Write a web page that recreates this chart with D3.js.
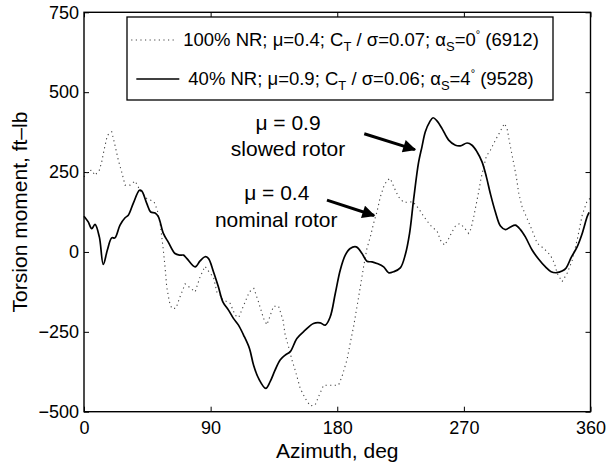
<!DOCTYPE html>
<html>
<head>
<meta charset="utf-8">
<script src="https://cdn.jsdelivr.net/npm/d3@7"></script>
<style>
  body { margin: 0; background: #fff; }
  svg { display: block; font-family: "Liberation Sans", Arial, Helvetica, sans-serif; }
</style>
</head>
<body>
<svg id="chart"></svg>
<script>
// 100% NR, mu=0.4 (dotted)
const nominalAz = [0, 3, 5.5, 7.8, 10.9, 12.6, 14.2, 16.6, 19.7, 22, 24.4, 26.8, 29.2, 32.7, 36.3, 39.8,
  44.6, 49.8, 52.1, 54.1, 55.3, 56.4, 57.6, 58.8, 60.7, 62.4, 65.4, 68.3, 71.9, 75.4, 79, 82.5, 86,
  89.6, 92, 94.4, 96.8, 98.7, 101.5, 103.9, 106.2, 107.4, 110, 113.6, 117.5, 120.7, 124, 127.6, 130,
  134.7, 138.3, 141.4, 143, 145.4, 147.8, 150.1, 153.7, 157.2, 160.8, 164.3, 166.7, 170.3, 175, 180.9,
  183.3, 186.9, 189.2, 191.6, 194, 196.4, 198.7, 201.1, 203.5, 205.8, 208.2, 210.6, 213, 215.3, 217.7,
  221.3, 223.6, 227.2, 230.7, 233.8, 237.8, 240.9, 243.8, 247.3, 250.9, 253.3, 256.3, 259.2, 261.6,
  264, 267, 269.9, 273.4, 275.1, 277, 278.9, 280.5, 282.2, 284.1, 286, 288.8, 292.4, 295.2, 298.8,
  300.7, 303.1, 305.4, 307.3, 309, 311.4, 314.9, 318.5, 322.1, 326.8, 331.5, 334.4, 336.3, 339.8,
  343.4, 347, 350.5, 354.1, 357.2, 360];
const nominalMoment = [235, 253, 256, 240, 256, 282, 318, 365, 376, 334, 287, 250, 209, 209, 222, 193,
  167, 157, 131, 89, 47, 5, -47, -110, -156, -177, -176, -140, -100, -112, -125, -78, -45,
  -67, -78, -125, -135, -151, -155, -161, -185, -198, -205, -166, -125, -114, -156, -208, -228,
  -170, -170, -213, -260, -297, -338, -370, -427, -458, -482, -479, -453, -417, -417, -417,
  -391, -338, -286, -234, -172, -109, -47, 11, 47, 89, 125, 172, 204, 224, 230,
  193, 172, 155, 156, 157, 136, 115, 97, 78, 66, 37, 21, 42, 63,
  81, 89, 78, 58, 73, 110, 152, 188, 230, 266, 300, 318, 350, 372, 402,
  386, 329, 277, 235, 183, 141, 105, 68, 27, 11, -10, -36, -67, -93,
  -67, -26, 37, 115, 155, 170];

// 40% NR, mu=0.9 (solid)
const slowedAz = [0, 3, 5.5, 7.8, 10.9, 13.7, 16.6, 19.7, 22, 25.6, 29.2, 31.5, 35, 39.4, 41, 44.6,
  47.4, 50.5, 52.9, 56.4, 60, 64.7, 68.3, 70.7, 73, 79, 82.5, 86, 88.4, 92, 95.5, 98.7, 102.7, 106.2,
  109.8, 113.4, 117.6, 120.5, 124.1, 129.2, 132.3, 135.8, 139.4, 143, 146.6, 151.3, 157.2, 163.1,
  167.9, 171.5, 175, 178.6, 182.1, 185.7, 189.2, 193.5, 197.6, 201.1, 204.7, 208.2, 213, 216.5, 220,
  224.8, 228.4, 231.4, 234.3, 237.8, 240.2, 242.6, 245.7, 248.1, 250.9, 254.5, 259.2, 264, 267.5,
  272.3, 275.8, 279.4, 282.9, 286, 288.8, 292.4, 296, 299.5, 303.1, 306.6, 310.2, 313.7, 318.5,
  323.2, 328, 332, 335.8, 339.8, 342.7, 346.3, 350.5, 354.1, 357.6, 359];
const slowedMoment = [112, 94, 73, 86, 47, -39, 6, 44, 44, 84, 107, 115, 152, 193, 191, 152,
  125, 122, 110, 58, 30, -5, -10, -10, -20, -47, -28, -15, -20, -62, -109, -156, -182, -208,
  -229, -260, -302, -354, -396, -427, -406, -370, -338, -323, -312, -271, -245, -224,
  -222, -229, -203, -130, -57, -10, 11, 16, -5, -29, -31, -36, -47, -65, -62,
  -50, -8, 58, 165, 280, 329, 376, 407, 420, 410, 386, 350, 334, 332,
  341, 334, 313, 282, 235, 183, 125, 81, 70, 78, 84, 70, 47, 6,
  -23, -47, -62, -65, -60, -50, -17, 16, 58, 110, 124];

const xTicks = [0, 90, 180, 270, 360];
const yTicks = [-500, -250, 0, 250, 500, 750];

const W = 608, H = 467;
const margin = { top: 12.3, right: 17.5, bottom: 55.3, left: 84 };
const width = W - margin.left - margin.right;
const height = H - margin.top - margin.bottom;

const root = d3.select('#chart').attr('width', W).attr('height', H);
root.append('rect').attr('width', W).attr('height', H).attr('fill', '#fff');

const defs = root.append('defs');
defs.append('marker')
  .attr('id', 'head')
  .attr('viewBox', '0 -5 10 10')
  .attr('refX', 9)
  .attr('refY', 0)
  .attr('markerUnits', 'userSpaceOnUse')
  .attr('markerWidth', 15)
  .attr('markerHeight', 13)
  .attr('orient', 'auto')
  .append('path')
  .attr('d', 'M0,-5L10,0L0,5Z')
  .attr('fill', '#000');

const svg = root.append('g').attr('transform', `translate(${margin.left},${margin.top})`);

const x = d3.scaleLinear().domain([0, 360]).range([0, width]);
const y = d3.scaleLinear().domain([-500, 750]).range([height, 0]);

const fmt = d => d < 0 ? '\u2212' + Math.abs(d) : String(d);

// axes, ticks pointing inward
svg.append('g')
  .attr('transform', `translate(0,${height})`)
  .call(d3.axisBottom(x).tickValues(xTicks).tickFormat(fmt).tickSizeInner(-5).tickSizeOuter(0).tickPadding(10));
svg.append('g')
  .call(d3.axisLeft(y).tickValues(yTicks).tickFormat(fmt).tickSizeInner(-5).tickSizeOuter(0).tickPadding(5));
svg.append('g')
  .call(d3.axisTop(x).tickValues(xTicks).tickFormat('').tickSizeInner(-5).tickSizeOuter(0));
svg.append('g')
  .attr('transform', `translate(${width},0)`)
  .call(d3.axisRight(y).tickValues(yTicks).tickFormat('').tickSizeInner(-5).tickSizeOuter(0));

svg.selectAll('.domain').remove();
svg.selectAll('.tick line').attr('stroke', '#000').attr('stroke-width', 1);
svg.selectAll('.tick text')
  .attr('fill', '#000')
  .style('font-size', '18px')
  .style('font-family', '"Liberation Sans", Arial, sans-serif');

// the lines
const lineNominal = d3.line()
  .x((d, i) => x(nominalAz[i]))
  .y(d => y(d));
const lineSlowed = d3.line()
  .x((d, i) => x(slowedAz[i]))
  .y(d => y(d))
  .curve(d3.curveCatmullRom.alpha(0.5));

svg.append('path')
  .datum(nominalMoment)
  .attr('d', lineNominal)
  .attr('fill', 'none')
  .attr('stroke', '#444')
  .attr('stroke-width', 1.1)
  .attr('stroke-dasharray', '1.2,3.4');

svg.append('path')
  .datum(slowedMoment)
  .attr('d', lineSlowed)
  .attr('fill', 'none')
  .attr('stroke', '#000')
  .attr('stroke-width', 1.7)
  .attr('stroke-linejoin', 'round');

// box
svg.append('rect')
  .attr('width', width)
  .attr('height', height)
  .attr('fill', 'none')
  .attr('stroke', '#000')
  .attr('stroke-width', 1.4);

// annotations
const notes = [
  { az: 145, m: 383, text: '\u03bc = 0.9' },
  { az: 145, m: 300, text: 'slowed rotor' },
  { az: 137, m: 164, text: '\u03bc = 0.4' },
  { az: 136.6, m: 78, text: 'nominal rotor' }
];
svg.selectAll('.note')
  .data(notes)
  .enter()
  .append('text')
  .attr('class', 'note')
  .attr('x', d => x(d.az))
  .attr('y', d => y(d.m))
  .attr('text-anchor', 'middle')
  .style('font-size', '21px')
  .text(d => d.text);

const arrows = [
  { from: [199.2, 370], to: [235.2, 320] },
  { from: [172.7, 162], to: [206.2, 114] }
];
svg.selectAll('.arrow')
  .data(arrows)
  .enter()
  .append('line')
  .attr('x1', d => x(d.from[0]))
  .attr('y1', d => y(d.from[1]))
  .attr('x2', d => x(d.to[0]))
  .attr('y2', d => y(d.to[1]))
  .attr('stroke', '#000')
  .attr('stroke-width', 3)
  .attr('marker-end', 'url(#head)');

// legend
const legend = root.append('g');
legend.append('rect')
  .attr('x', 127).attr('y', 17).attr('width', 426).attr('height', 83)
  .attr('fill', '#fff').attr('stroke', '#000').attr('stroke-width', 1.3);

const entries = [
  { rowY: 40, mu: '0.4', ct: '0.07', a: '0', run: '6912', nr: '100% NR', dotted: true },
  { rowY: 79, mu: '0.9', ct: '0.06', a: '4', run: '9528', nr: '40% NR', dotted: false }
];
entries.forEach(e => {
  const t = legend.append('text')
    .attr('x', 361)
    .attr('y', e.rowY + 6)
    .attr('text-anchor', 'middle')
    .style('font-size', '18.5px');
  t.append('tspan').text(`${e.nr}; \u03bc=${e.mu}; C`);
  t.append('tspan').attr('dy', 5).style('font-size', '13px').text('T');
  t.append('tspan').attr('dy', -5).text(` / \u03c3=${e.ct}; \u03b1`);
  t.append('tspan').attr('dy', 5).style('font-size', '13px').text('S');
  t.append('tspan').attr('dy', -5).text(`=${e.a}`);
  t.append('tspan').attr('dy', -8).style('font-size', '11px').text('\u00b0');
  t.append('tspan').attr('dy', 8).text(` (${e.run})`);
  const len = t.node().getComputedTextLength();
  const start = 361 - len / 2;
  legend.append('line')
    .attr('x1', start - 52).attr('x2', start - 9)
    .attr('y1', e.rowY).attr('y2', e.rowY)
    .attr('stroke', e.dotted ? '#444' : '#000')
    .attr('stroke-width', e.dotted ? 1.1 : 1.7)
    .attr('stroke-dasharray', e.dotted ? '1.2,3.4' : null);
});

// axis titles
root.append('text')
  .attr('x', margin.left + width / 2)
  .attr('y', 458)
  .attr('text-anchor', 'middle')
  .style('font-size', '21px')
  .text('Azimuth, deg');

root.append('text')
  .attr('transform', `translate(27,${margin.top + height / 2}) rotate(-90)`)
  .attr('text-anchor', 'middle')
  .style('font-size', '21px')
  .text('Torsion moment, ft\u2013lb');
</script>
</body>
</html>
